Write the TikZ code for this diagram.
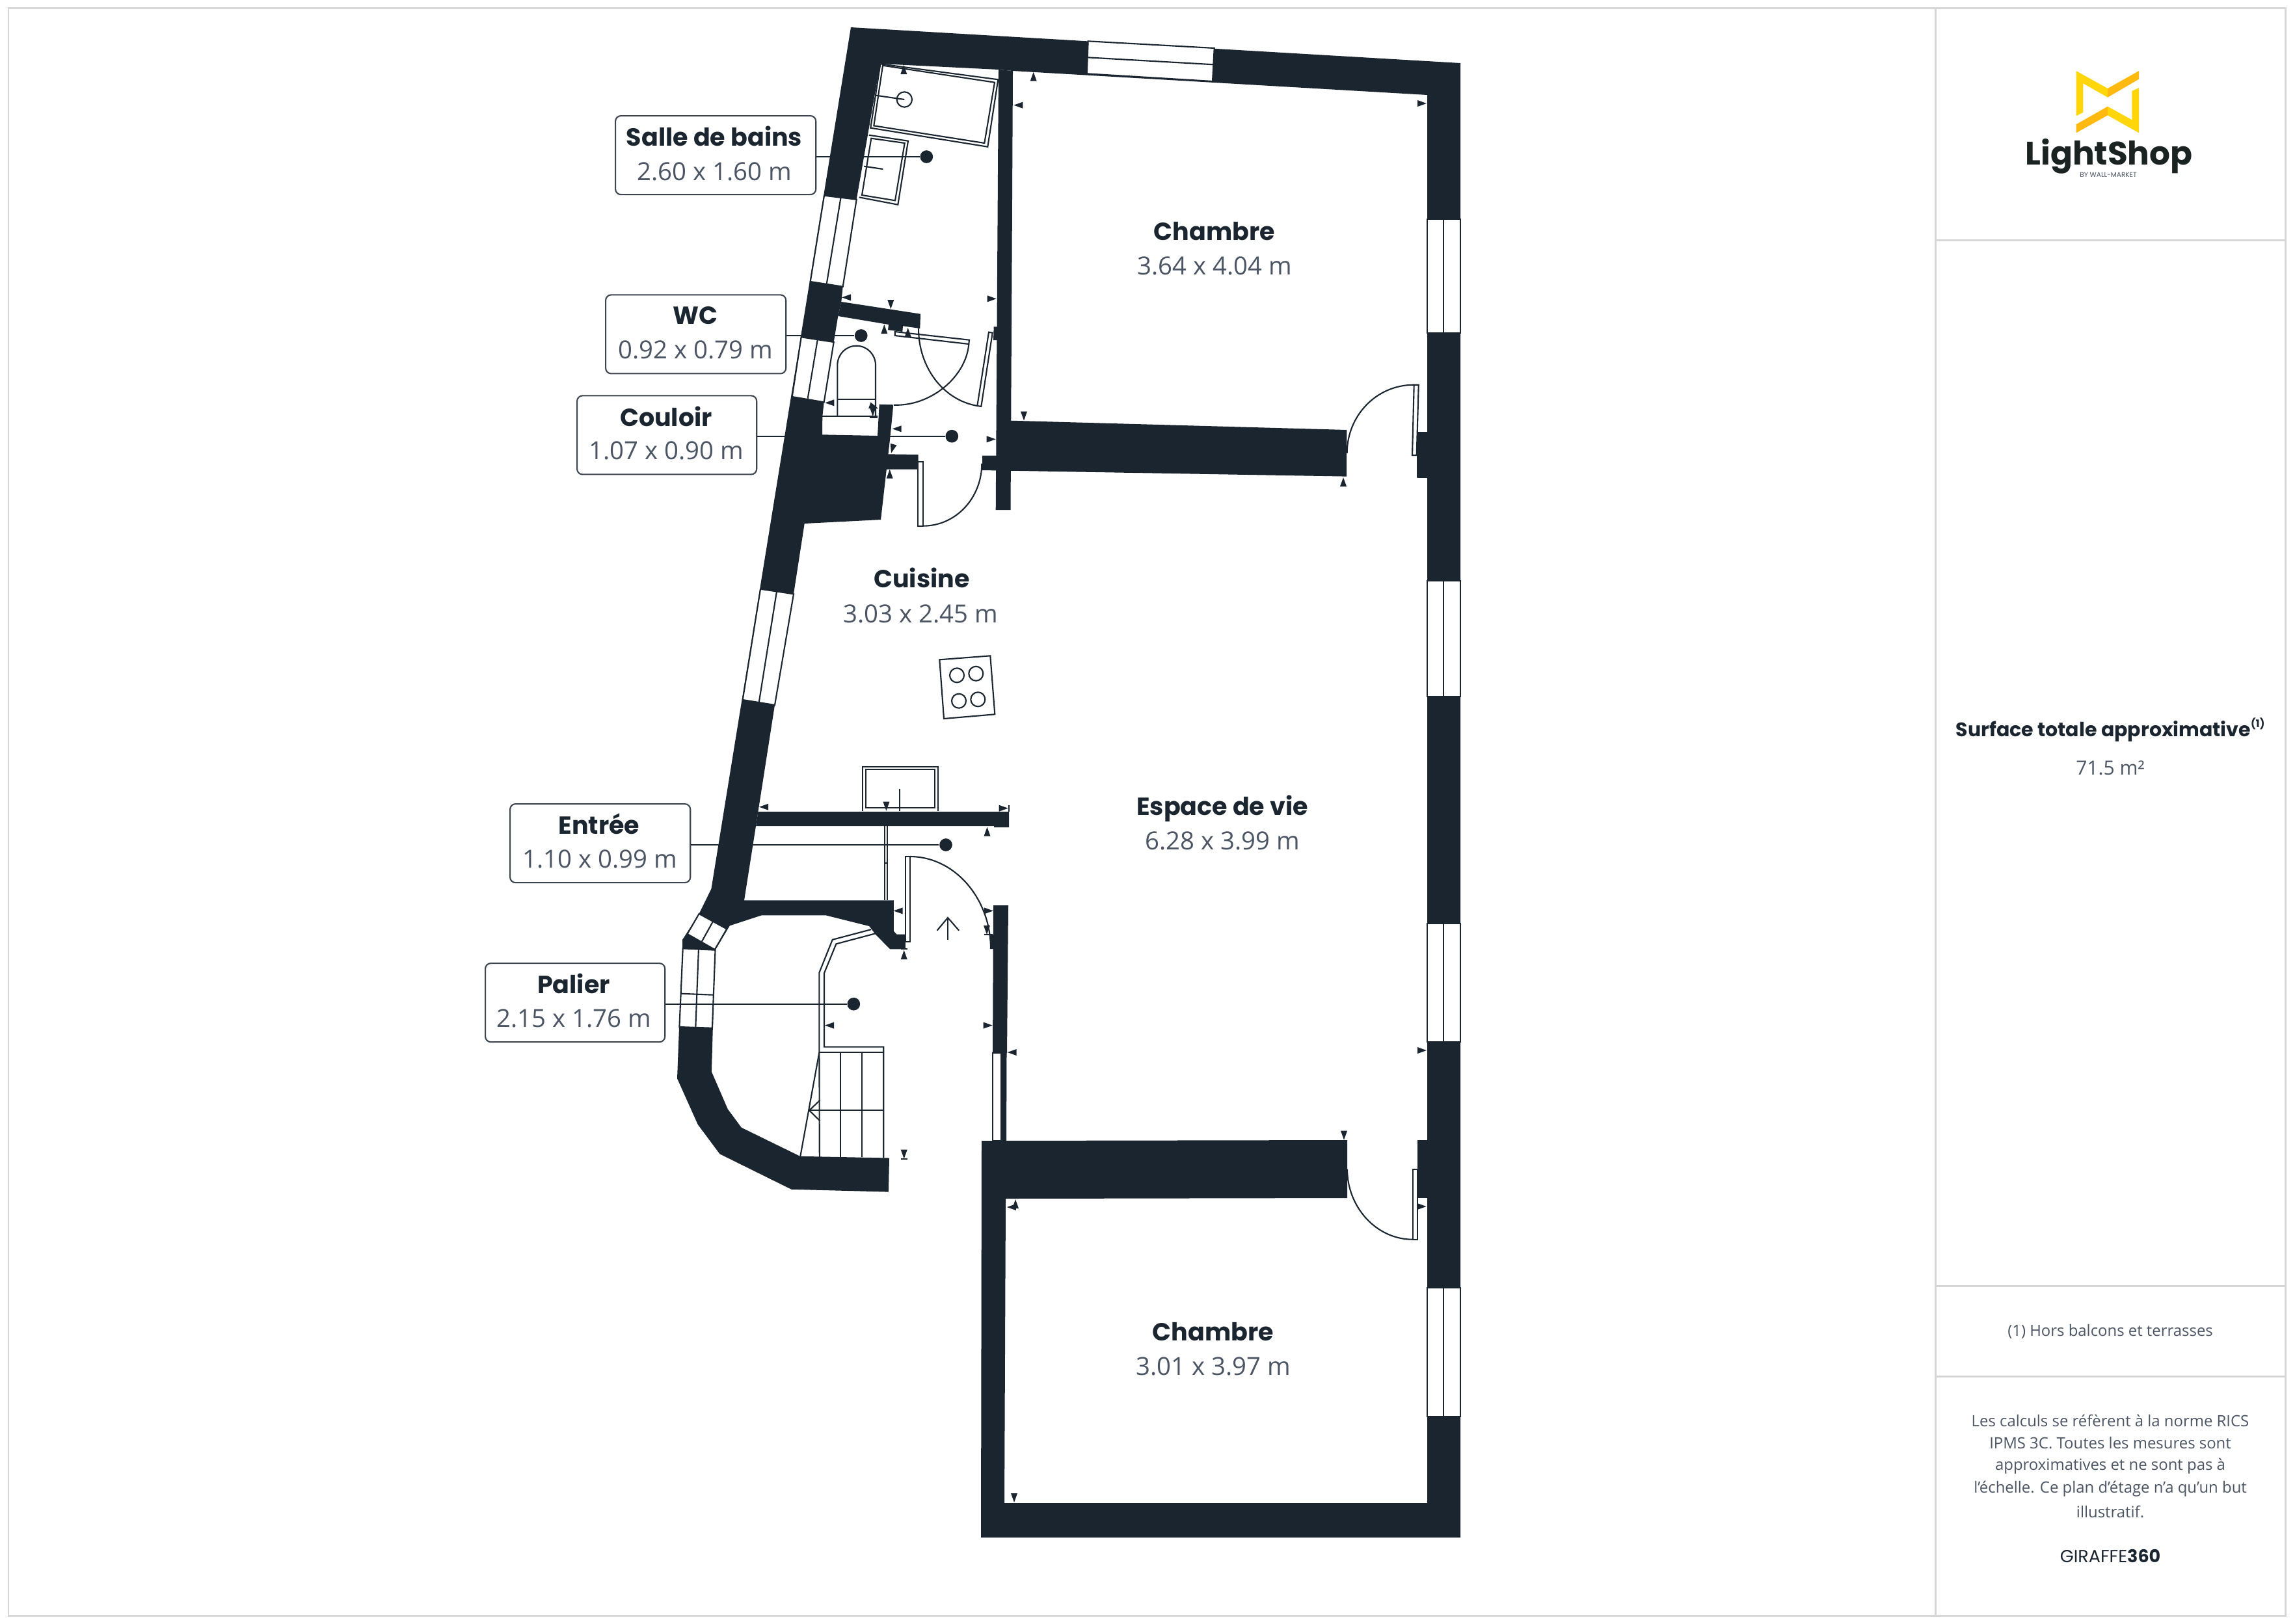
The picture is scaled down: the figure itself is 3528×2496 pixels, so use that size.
\documentclass[tikz,border=0pt]{standalone}
\usepackage{fontspec}
\setmainfont{Open Sans}
\newfontfamily\nmf{Poppins}
\newfontfamily\osf{Open Sans}
\definecolor{wall}{HTML}{1B2530}
\definecolor{dimt}{HTML}{4B5563}
\definecolor{panel}{HTML}{D6D6D6}
\definecolor{yA}{HTML}{FFD60A}
\definecolor{yB}{HTML}{FFB90F}
\definecolor{logoT}{HTML}{1B2222}
\newcommand{\fs}[1]{\fontsize{\dimexpr#1pt*2845/10000\relax}{\dimexpr#1pt*3415/10000\relax}\selectfont}
\newcommand{\tri}[3]{\fill[wall,shift={(#1,#2)},rotate=-#3] (0,0) -- (-14,5) -- (-14,-5) -- cycle;}
\tikzset{
 wallfill/.style={fill=wall,draw=none},
 thin line/.style={draw=wall,line width=0.6pt},
 fix/.style={draw=wall,line width=0.6pt,fill=white},
 lead/.style={draw=wall,line width=0.6pt},
 labbox/.style={draw=wall!85!white,line width=0.6pt,rounded corners=2.4pt,inner sep=0pt,anchor=north west},
 dotn/.style={circle,fill=wall,inner sep=0pt,minimum size=5.6pt},
 rn/.style={inner sep=0pt,text=wall,font=\nmf\bfseries\fs{38}},
 rd/.style={inner sep=0pt,text=dimt,font=\osf\fs{38.3}},
 pt/.style={inner sep=0pt,text=dimt,font=\osf\fs{23.9}},
 frame/.style={draw=panel,line width=0.85pt},
}
\begin{document}
\begin{tikzpicture}[x=0.01cm,y=-0.01cm]
\useasboundingbox (0,0) rectangle (3528,2496);
% frame and panel
\draw[frame] (13,12) rectangle (3513,2484);
\draw[frame] (2975,12) -- (2975,2484);
\draw[frame] (2975,369) -- (3513,369);
\draw[frame] (2975,1977) -- (3513,1977);
\draw[frame] (2975,2116) -- (3513,2116);
% outer walls
\fill[wall] (1308,42) -- (2245,97) -- (2245,2364) -- (1508,2364) -- (1509,1754) -- (2071,1753) -- (2071,1842) -- (1546,1843) -- (1544,2311) -- (2194,2311) -- (2194,146) -- (1557,109) -- (1535,107) -- (1353,98)
 -- (1316.7,306.7) -- (1295.7,440.7) -- (1293.3,464) -- (1288.3,486) -- (1281.7,526) -- (1266.7,618.3) -- (1264.3,640) -- (1264,668.3) -- (1349,670) -- (1351.7,621.7) -- (1373.3,622.3) -- (1368.3,673.3) -- (1354,799) -- (1236.7,805) -- (1220,913.3) -- (1191,1084) -- (1165.4,1248) -- (1162,1270) -- (1144,1384.3) -- (1373.9,1384.3) -- (1373.9,1431.7) -- (1378.5,1436.7) -- (1391.9,1436.7) -- (1391.9,1459.3) -- (1368.1,1459.3) -- (1345.9,1436.7) -- (1336.3,1424) -- (1269.3,1407.3) -- (1170.8,1407.3) -- (1121.8,1423.3) -- (1099.5,1460.7) -- (1095.8,1581.6) -- (1093.9,1647.9) -- (1118.8,1705.4) -- (1139.8,1733.7) -- (1229.9,1777.8) -- (1367,1780.5) -- (1365.9,1832.6) -- (1216.5,1828.7) -- (1106.5,1774.3) -- (1072.8,1729.1) -- (1041,1658.2) -- (1044,1579.7) -- (1049,1458.3) -- (1049,1445) -- (1074.6,1405) -- (1093.4,1366.7) -- cycle;
% interior walls
\fill[wall] (1535,107) -- (1557,109) -- (1553.5,784) -- (1530.7,784) -- cycle;
\fill[wall] (1554,646.7) -- (2070.3,661) -- (2070,732.6) -- (1510,723) -- (1510,700.7) -- (1532,700.7) -- cycle;
\fill[wall] (1293.3,464) -- (1415,482.7) -- (1414.3,505) -- (1388,501.3) -- (1387.3,510) -- (1365,507.3) -- (1366,499) -- (1288.3,486) -- cycle;
\fill[wall] (1363.3,698.3) -- (1411.7,699) -- (1411.7,721.7) -- (1361.7,721.7) -- cycle;
\fill[wall] (1165.4,1248) -- (1551,1248) -- (1551,1272) -- (1528,1272) -- (1528,1270) -- (1162,1270) -- cycle;
\fill[wall] (1527,1392) -- (1550,1392) -- (1548,1619) -- (1526,1619) -- cycle;
\fill[wall] (1522.5,1437) -- (1527,1437) -- (1527,1459) -- (1523,1459) -- cycle;
\fill[wall] (1539.5,1619) -- (1547.5,1619) -- (1547,1754) -- (1539.5,1754) -- cycle;
\fill[wall] (2178.3,664) -- (2194,664) -- (2194,735) -- (2178,734.7) -- cycle;
\fill[wall] (2179,1753.3) -- (2194,1753.3) -- (2194,1842.3) -- (2179,1842.3) -- cycle;
\fill[wall] (1527.7,502.3) -- (1533,502.3) -- (1533,523) -- (1527,523) -- cycle;
% windows
\draw[fix] (1672.7,63.3) -- (1866.7,74) -- (1864,125) -- (1670.7,113.3) -- cycle;
\draw[thin line] (1671.7,88.3) -- (1866,99.3);
\foreach \a/\b in {336.7/512.3,893/1071,1420/1602,1980/2178}{
 \filldraw[fix] (2194,\a) rectangle (2245,\b);
 \draw[thin line] (2219.3,\a) -- (2219.3,\b);
}
\filldraw[fix] (1267,300.7) -- (1316.7,306.7) -- (1295.7,440.7) -- (1245.7,433) -- cycle;
\draw[thin line] (1292.3,305) -- (1270.7,436.7);
\filldraw[fix] (1231.7,518.3) -- (1281.7,526) -- (1266.7,618.3) -- (1217.7,610) -- cycle;
\draw[thin line] (1256.7,522.7) -- (1241.7,612.7);
\filldraw[fix] (1169,905.7) -- (1220,913.3) -- (1191,1084) -- (1141.7,1076) -- cycle;
\draw[thin line] (1194,909.3) -- (1166.7,1080);
\filldraw[fix] (1074.6,1405) -- (1117.2,1428.3) -- (1098.8,1460) -- (1056.6,1436) -- cycle;
\draw[thin line] (1095.7,1417.3) -- (1078.5,1448.3);
\filldraw[fix] (1049.7,1458.3) -- (1099.5,1460.7) -- (1094.9,1580.7) -- (1044.4,1579) -- cycle;
\draw[thin line] (1073.9,1459.3) -- (1069.3,1580);
\draw[thin line] (1046.7,1527.7) -- (1096.5,1529.7);
\fill[wall] (1056.6,1436) -- (1096.9,1459.3) -- (1049,1458.3) -- (1049,1445) -- cycle;
\filldraw[fix] (1526,1619) -- (1539.5,1619) -- (1539.5,1754) -- (1526,1754) -- cycle;
% fixtures: bath, basin
\draw[thin line] (1353.3,98.3) -- (1534.3,122.3) -- (1518.3,225.7) -- (1338.3,196.7) -- cycle;
\draw[thin line] (1357,100.7) -- (1529,126.7) -- (1513.3,220) -- (1343.3,193.3) -- cycle;
\draw[thin line] (1390.3,153) circle (11.7);
\draw[thin line] (1346.7,146.7) -- (1390.3,153);
\draw[thin line] (1335.7,207.7) -- (1396,216.7) -- (1380.3,314.7) -- (1320.7,303.3);
\draw[thin line] (1339.3,212.7) -- (1390.7,220) -- (1376,308.3) -- (1325,300) -- cycle;
\draw[thin line] (1328.3,255.7) -- (1357.3,260);
% toilet
\draw[thin line] (1287.3,640) -- (1287.3,561.7) .. controls (1287.3,545) and (1300,531.7) .. (1316.6,531.7) .. controls (1333,531.7) and (1346,545) .. (1346,561.7) -- (1346,640);
\draw[thin line] (1287.3,614.3) -- (1346,614.3);
\draw[thin line] (1264.3,640) -- (1349,640);
\draw[thin line] (1337,641.7) -- (1349,641.7);
% doors
\draw[fix] (1375.7,510) -- (1490,522.7) -- (1489.3,529) -- (1375.7,516) -- cycle;
\draw[thin line] (1489.3,529) .. controls (1485,580) and (1430,625) .. (1374,622.7);
\draw[fix] (1520,510.7) -- (1525.7,511.7) -- (1508.3,625) -- (1502.3,624) -- cycle;
\draw[thin line] (1502.3,624) .. controls (1450,615) and (1412,565) .. (1412,505);
\draw[fix] (1410.7,710) rectangle (1418.7,808.7);
\draw[thin line] (1418.7,808.7) .. controls (1470,808.7) and (1509.3,765) .. (1509.3,712.7);
\draw[fix] (2173.7,591.7) -- (2180.7,591.7) -- (2177.7,700) -- (2171,700) -- cycle;
\draw[thin line] (2173.7,591.7) .. controls (2115,591.7) and (2070.7,640) .. (2070.7,696.7);
\draw[fix] (2171.7,1797.7) rectangle (2179,1906);
\draw[thin line] (2171.7,1905.7) .. controls (2115,1905.7) and (2071,1855) .. (2071,1797.7);
\draw[fix] (1392.3,1317.2) rectangle (1399.2,1448.3);
\draw[thin line] (1399,1317) .. controls (1467,1317) and (1523,1381) .. (1523,1459);
\draw[thin line] (1512.6,1437) -- (1525.6,1437);
\draw[thin line] (1385,1459) -- (1394.6,1459);
% sink, partition, cooktop
\draw[thin line] (1326,1247.3) -- (1326,1179) -- (1441.7,1179) -- (1441.7,1247.3);
\draw[thin line] (1330.6,1183.3) rectangle (1436.7,1242.3);
\draw[thin line] (1383.4,1213.3) -- (1383.4,1246.7);
\draw[thin line] (1360,1270) -- (1360,1384.3);
\draw[thin line] (1364.3,1270) -- (1364.3,1384.3);
\draw[thin line] (1360,1326.7) -- (1364.3,1326.7);
\draw[thin line] (1551,1238) -- (1551,1248);
\draw[thin line] (1444.3,1014.3) -- (1522.3,1008.3) -- (1529.3,1098.3) -- (1451,1105) -- cycle;
\foreach \x/\y in {1471/1038.3,1500.3/1035.7,1474/1077.7,1503.3/1075.3}{\draw[thin line] (\x,\y) circle (11);}
% north arrow
\draw[thin line] (1457,1445) -- (1457,1411);
\draw[thin line] (1440.5,1430.7) -- (1457,1411) -- (1474.2,1430.7);
% stairs
\draw[thin line] (1339.1,1429.1) -- (1279.7,1444.8) -- (1259.4,1495.4) -- (1259.4,1618) -- (1259.8,1778.9);
\draw[thin line] (1346,1435.2) -- (1285.4,1451.3) -- (1267,1496.2) -- (1267,1609.6) -- (1358.2,1609.6) -- (1358.2,1780);
\draw[thin line] (1259.4,1618) -- (1358.2,1618);
\draw[thin line] (1292.3,1618) -- (1292.3,1779);
\draw[thin line] (1325.3,1618) -- (1325.3,1779);
\draw[thin line] (1244,1707.3) -- (1358.2,1707.3);
\draw[thin line] (1260.5,1691.6) -- (1244,1707.3) -- (1260.5,1723.4);
\draw[thin line] (1259.4,1618) -- (1230.3,1777.8);
% dimension ticks
\tri{1389.3}{100}{-90}
\tri{1588.7}{110.7}{-90}
\tri{1558.3}{161.7}{180}
\tri{1294}{457.3}{180}
\tri{1369.3}{475}{90}
\tri{1531.7}{459.3}{0}
\tri{1359.3}{499}{-90}
\tri{1395.7}{504}{-90}
\tri{1268.3}{619.3}{180}
\tri{1350}{628}{20}
\tri{1341.7}{640}{90}
\tri{1371.7}{659.3}{180}
\tri{1370}{696.7}{105}
\tri{1367.7}{721.7}{-90}
\tri{1530.7}{675.3}{0}
\tri{1574}{646.7}{90}
\tri{2065}{734}{-90}
\tri{2193}{159}{0}
\tri{2193}{1615}{0}
\tri{2066}{1752.7}{90}
\tri{2192.7}{1855}{0}
\tri{1559}{2310}{90}
\tri{1561}{1844}{-90}
\tri{1547.9}{1856}{180}
\tri{1548.7}{1618}{180}
\tri{1525.7}{1576.6}{0}
\tri{1268}{1576.6}{180}
\tri{1389.7}{1781.6}{90}
\draw[thin line] (1384.7,1781.6) -- (1394.6,1781.6);
\tri{1389.7}{1461}{-90}
\tri{1517}{1437}{90}
\tri{1526.8}{1400.4}{0}
\tri{1373.6}{1400.4}{180}
\tri{1517.5}{1271.7}{-90}
\tri{1549.7}{1242.7}{0}
\tri{1362.4}{1246.7}{90}
\tri{1167}{1240.7}{180}
% label boxes
\node[labbox,minimum width=3.08cm,minimum height=1.21cm] (bxA) at (945,177) {};
\node[labbox,minimum width=2.77cm,minimum height=1.21cm] (bxB) at (930,452.3) {};
\node[labbox,minimum width=2.76cm,minimum height=1.21cm] (bxC) at (886,607.3) {};
\node[labbox,minimum width=2.77cm,minimum height=1.21cm] (bxD) at (783,1235) {};
\node[labbox,minimum width=2.76cm,minimum height=1.21cm] (bxE) at (745,1480) {};
\node[dotn] (dA) at (1424.3,241) {};
\node[dotn] (dB) at (1323.7,516) {};
\node[dotn] (dC) at (1463.3,670.7) {};
\node[dotn] (dD) at (1454,1299) {};
\node[dotn] (dE) at (1312.3,1543.7) {};
\draw[lead] (bxA.east |- dA) -- (dA);
\draw[lead] (bxB.east |- dB) -- (dB);
\draw[lead] (bxC.east |- dC) -- (dC);
\draw[lead] (bxD.east |- dD) -- (dD);
\draw[lead] (bxE.east |- dE) -- (dE);
% texts
\node[rn] (t1) at (1098,209) {Salle de bains};
\node[rd] (t1d) at (1098,264) {2.60 x 1.60 m};
\node[rn] (t2) at (1069,485) {WC};
\node[rd] (t2d) at (1069,538) {0.92 x 0.79 m};
\node[rn] (t3) at (1024,640) {Couloir};
\node[rd] (t3d) at (1024,693) {1.07 x 0.90 m};
\node[rn] (t4) at (921,1267) {Entrée};
\node[rd] (t4d) at (922,1321) {1.10 x 0.99 m};
\node[rn] (t5) at (882,1512) {Palier};
\node[rd] (t5d) at (882,1566) {2.15 x 1.76 m};
\node[rn] (t6) at (1867,356) {Chambre};
\node[rd] (t6d) at (1867,409) {3.64 x 4.04 m};
\node[rn] (t7) at (1417,888) {Cuisine};
\node[rd] (t7d) at (1415,944) {3.03 x 2.45 m};
\node[rn] (t8) at (1879,1243) {Espace de vie};
\node[rd] (t8d) at (1879,1293) {6.28 x 3.99 m};
\node[rn] (t9) at (1865,2048) {Chambre};
\node[rd] (t9d) at (1865,2101) {3.01 x 3.97 m};
% panel texts
\node[inner sep=0pt,text=wall,font=\nmf\bfseries\fs{30}] (s1) at (3244,1122) {Surface totale approximative\raisebox{0.45em}{\fs{16}(1)}};
\node[inner sep=0pt,text=dimt,font=\osf\fs{30}] (s2) at (3244,1181) {71.5 m²};
\node[pt] (s3) at (3244,2047) {(1) Hors balcons et terrasses};
\node[pt] (p1) at (3244,2184) {Les calculs se réfèrent à la norme RICS};
\node[pt] (p2) at (3244,2219) {IPMS 3C. Toutes les mesures sont};
\node[pt] (p3) at (3244,2254) {approximatives et ne sont pas à};
\node[pt] (p4) at (3244,2289) {l’échelle. Ce plan d’étage n’a qu’un but};
\node[pt] (p5) at (3244,2324) {illustratif.};
\node[inner sep=0pt,text=wall,font=\nmf\fs{27}] (g) at (3244,2392.5) {GIRAFFE{\bfseries 360}};
% logo
\fill[yA] (3191.5,109) -- (3240,136) -- (3240,149.7) -- (3202.4,128.3) -- (3202.4,172.7) -- (3191.5,178.3) -- cycle;
\fill[yB] (3240,136) -- (3288,109) -- (3288,121.7) -- (3240,149.7) -- cycle;
\fill[yB] (3191.5,191.3) -- (3240,163.7) -- (3240,177.3) -- (3191.5,204.3) -- cycle;
\fill[yA] (3240,163.7) -- (3277.2,184.3) -- (3277.2,140) -- (3288,135) -- (3288,204.3) -- (3240,177.3) -- cycle;
\node[inner sep=0pt,text=logoT,font=\nmf\bfseries\fs{50}] (lg) at (3242,240) {LightShop};
\node[inner sep=0pt,text=dimt,font=\nmf\fs{10.5}] (lg2) at (3241,269) {BY WALL-MARKET};
\end{tikzpicture}
\end{document}
